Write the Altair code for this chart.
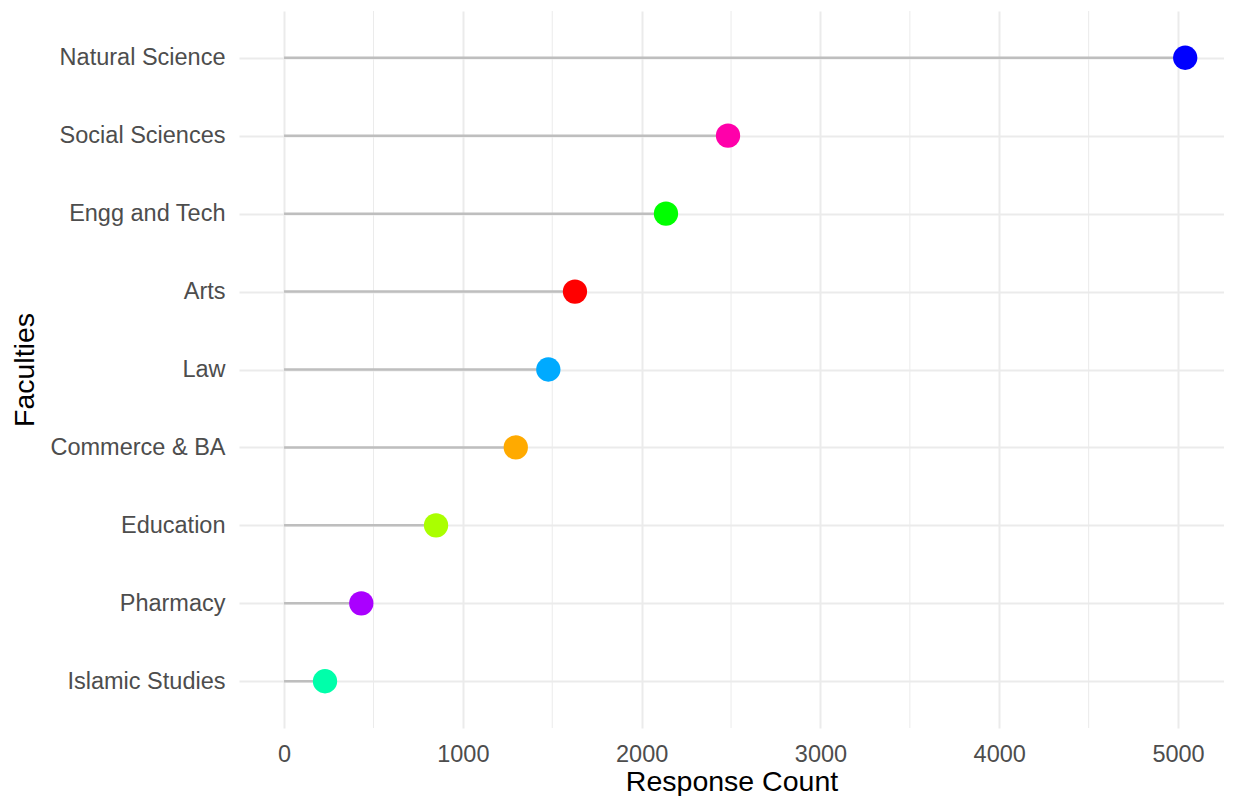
import json
import altair as alt
import pandas as pd

faculties = ["Natural Science", "Social Sciences", "Engg and Tech", "Arts", "Law",
             "Commerce & BA", "Education", "Pharmacy", "Islamic Studies"]
counts = [5040, 2483, 2136, 1627, 1478, 1296, 850, 432, 229]
colors = ["#0000FF", "#FF00AA", "#00FF00", "#FF0000", "#00AAFF",
          "#FFAA00", "#AAFF00", "#AA00FF", "#00FFAA"]
major_ticks = [0, 1000, 2000, 3000, 4000, 5000]
minor_ticks = [500, 1500, 2500, 3500, 4500]

rank = list(range(len(faculties)))
df = pd.DataFrame({"Faculty": faculties, "Count": counts, "Rank": rank,
                   "Start": [0] * len(counts)})
minor_df = pd.DataFrame({"m": minor_ticks})

FONT = "Liberation Sans"

xscale = alt.Scale(domain=[-252, 5257], nice=False, zero=False)
yscale = alt.Scale(domain=[-0.6, len(faculties) - 1 + 0.6], nice=False, zero=False, reverse=True)

label_expr = json.dumps(faculties) + "[datum.value]"

x_axis = alt.Axis(values=major_ticks, title="Response Count", grid=True,
                  gridColor="#EBEBEB", gridWidth=2, domain=False, ticks=False,
                  tickSize=0, labelPadding=14, labelFontSize=23.5,
                  labelColor="#4D4D4D", titleFontSize=28.5, titleColor="#000000",
                  titleFontWeight="normal", titlePadding=2, labelFont=FONT,
                  titleFont=FONT, format="d")
y_axis = alt.Axis(title="Faculties", values=rank, labelExpr=label_expr, grid=True,
                  gridColor="#EBEBEB", gridWidth=2,
                  domain=False, ticks=False, tickSize=0, labelPadding=14,
                  labelFontSize=23.5, labelColor="#4D4D4D", titleFontSize=28.5,
                  titleColor="#000000", titleFontWeight="normal", titlePadding=11,
                  labelFont=FONT, titleFont=FONT)

minor = alt.Chart(minor_df).mark_rule(color="#EBEBEB", strokeWidth=1).encode(
    x=alt.X("m:Q", scale=xscale, axis=x_axis)
)

seg = alt.Chart(df).mark_rule(color="#BEBEBE", strokeWidth=2.5).encode(
    x=alt.X("Start:Q", scale=xscale, axis=x_axis),
    x2="Count:Q",
    y=alt.Y("Rank:Q", scale=yscale, axis=y_axis),
)

pts = alt.Chart(df).mark_circle(size=590, opacity=1).encode(
    x=alt.X("Count:Q", scale=xscale, axis=x_axis),
    y=alt.Y("Rank:Q", scale=yscale, axis=y_axis),
    color=alt.Color("Faculty:N", scale=alt.Scale(domain=faculties, range=colors), legend=None),
)

chart = alt.layer(minor, seg, pts).properties(
    width=985, height=717, background="#FFFFFF",
    padding={"left": 2, "top": 2, "right": 0, "bottom": 0},
).configure_view(stroke=None, strokeWidth=0)

chart.save("out.html", embed_options={"renderer": "svg", "actions": False})
